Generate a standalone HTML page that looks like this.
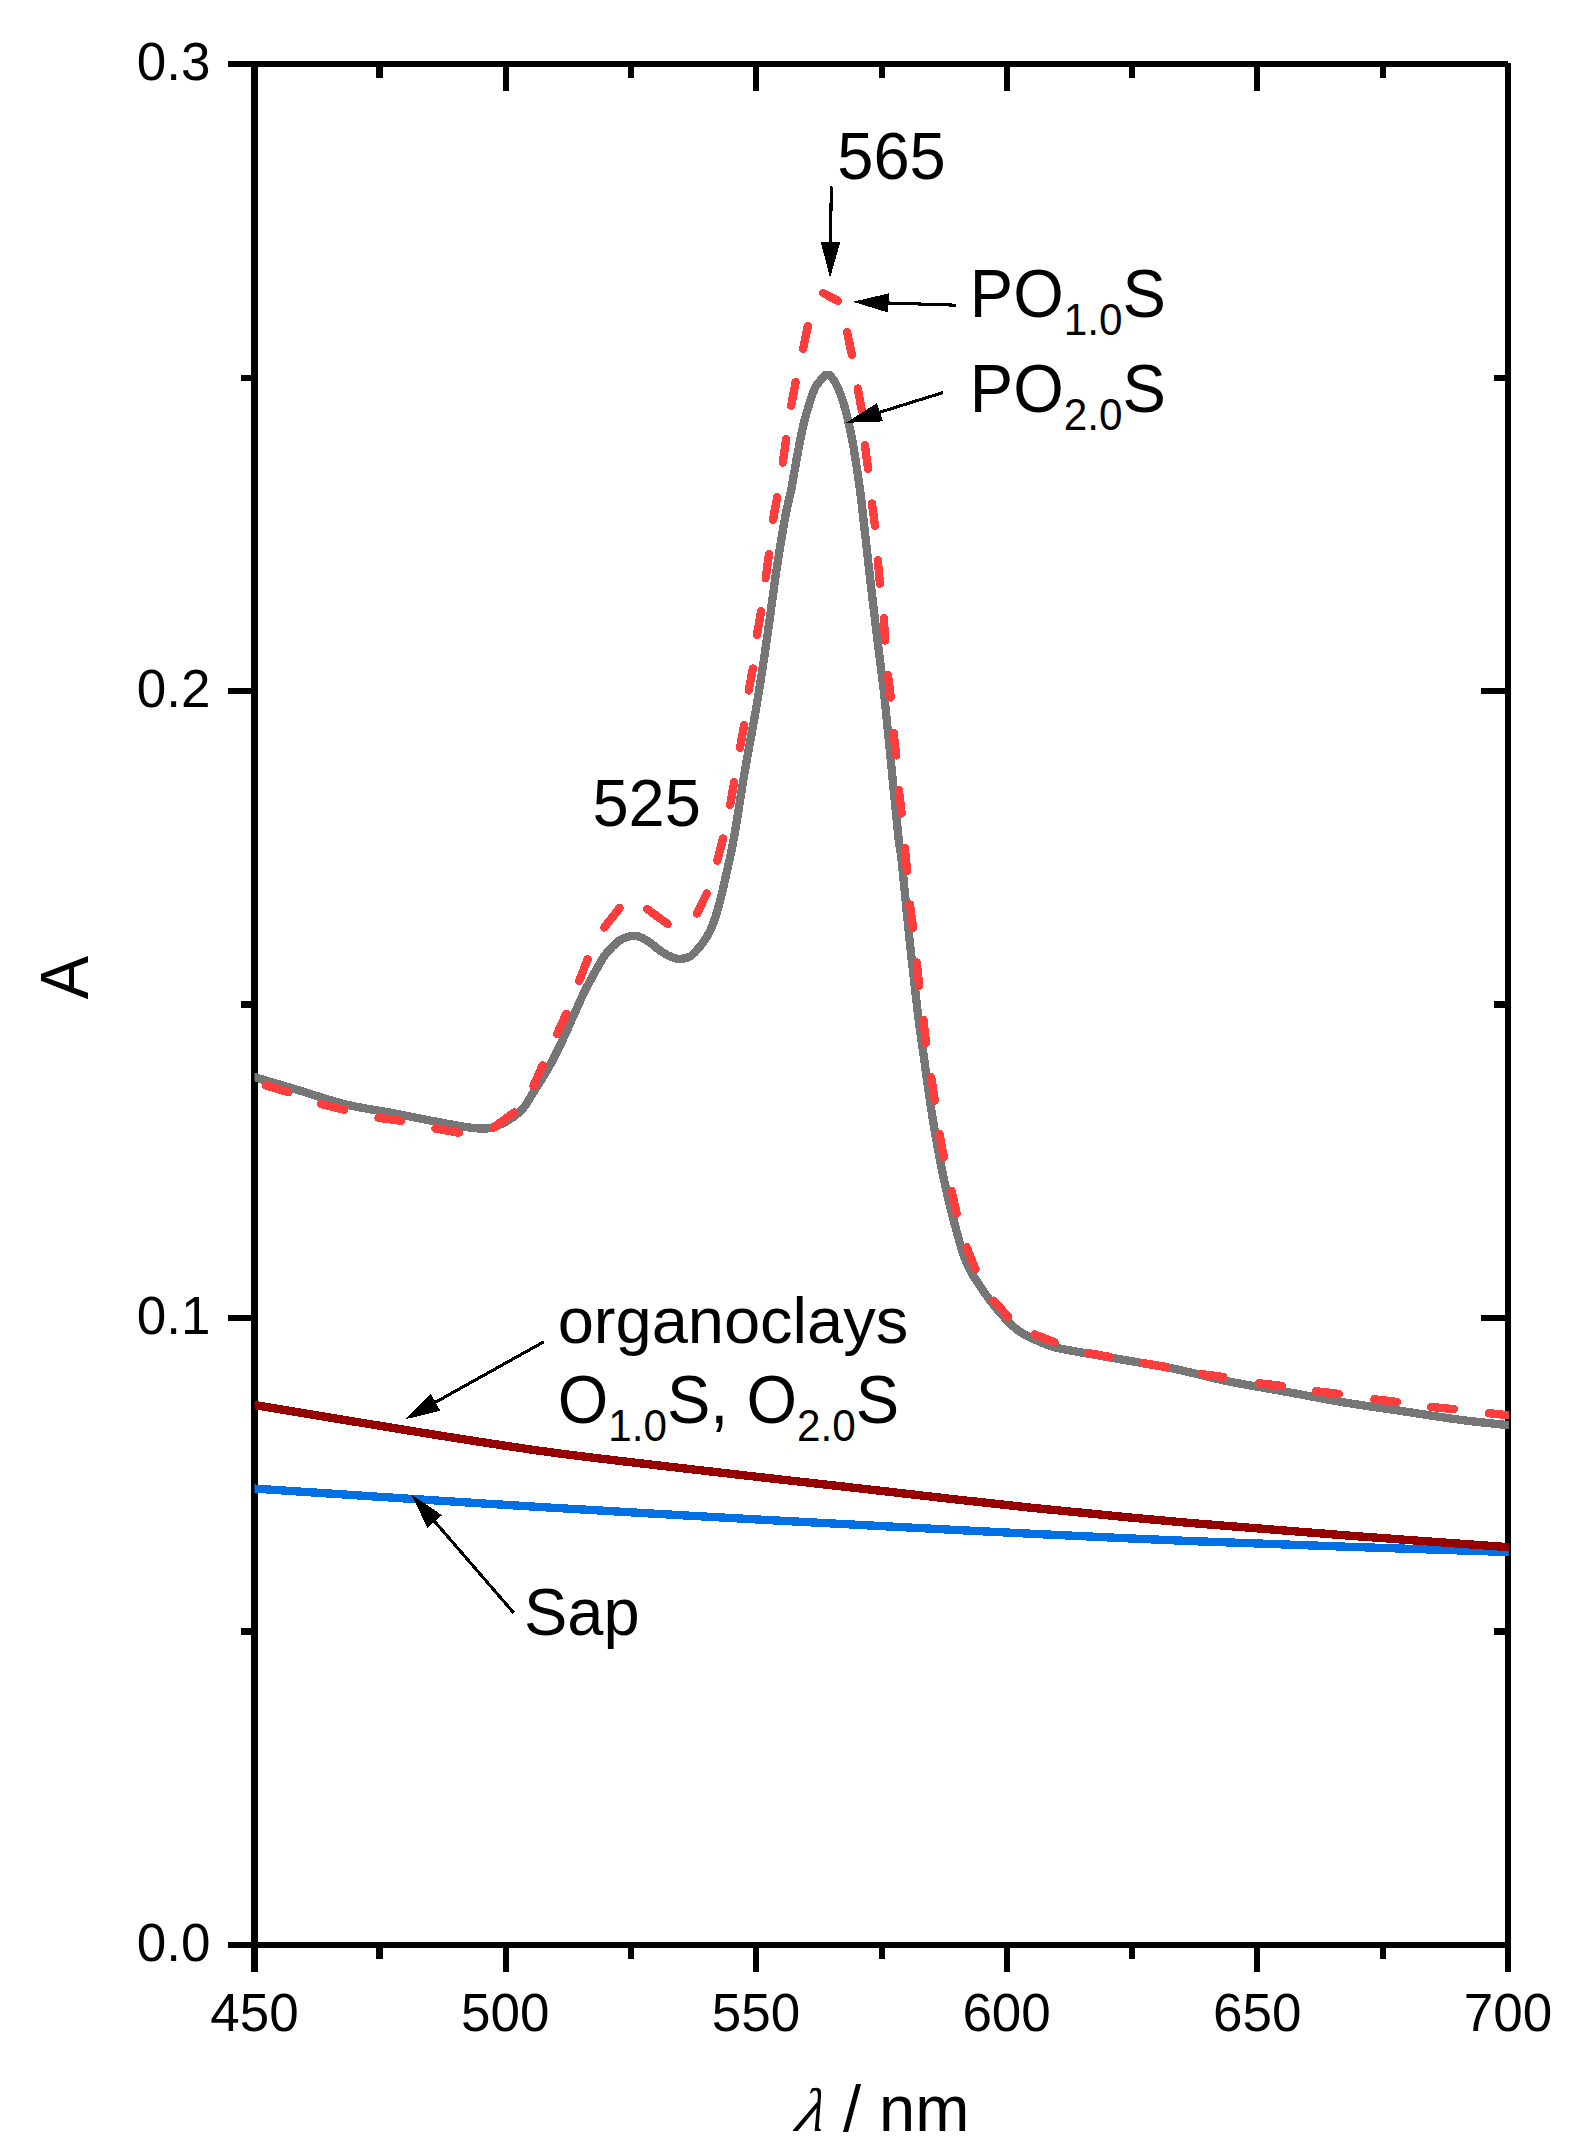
<!DOCTYPE html>
<html lang="en"><head><meta charset="utf-8"><title>Absorption spectra</title>
<style>html,body{margin:0;padding:0;background:#fff}svg{display:block}text{font-family:"Liberation Sans",Arial,Helvetica,sans-serif;fill:#000}.t{font-size:53px}.a{font-size:65px}.s{font-size:42.25px}.lam{font-family:"Liberation Serif","DejaVu Serif",serif}</style></head><body>
<svg width="1570" height="2155" viewBox="0 0 1570 2155">
<rect width="1570" height="2155" fill="#fff"/>
<defs><clipPath id="plot"><rect x="254.5" y="64" width="1254.4" height="1881"/></clipPath></defs>
<g stroke="#000" stroke-width="6.25" fill="none" shape-rendering="crispEdges">
<path d="M254.5 60.9 V1972"/>
<path d="M1508 63 V1972"/>
<path d="M228.1 64 H1508"/>
<path d="M228.1 1945 H1508"/>
<path d="M506 1945v27.1M506 64v27.1M631 1945v14.1M631 64v14.1M756 1945v27.1M756 64v27.1M882 1945v14.1M882 64v14.1M1007 1945v27.1M1007 64v27.1M1132 1945v14.1M1132 64v14.1M1257 1945v27.1M1257 64v27.1M1383 1945v14.1M1383 64v14.1" stroke-width="6"/>
<path d="M379.5 1945v14.1M379.5 64v14.1" stroke-width="7"/>
<path d="M254.5 1318h-26.4M1508 1318h-27.1M254.5 691h-26.4M1508 691h-27.1M254.5 1631.5h-13.4M1508 1631.5h-14.1M254.5 1004.5h-13.4M1508 1004.5h-14.1M254.5 377.9h-13.4M1508 377.9h-14.1"/>
</g>
<g clip-path="url(#plot)" fill="none" stroke-linejoin="round" shape-rendering="crispEdges">
<path d="M214.5 1486C221.2 1486.4 221.4 1486.4 254.5 1488.6C287.6 1490.8 363.8 1495.8 413 1499C462.2 1502.2 500.6 1504.6 550 1507.6C599.4 1510.6 656.1 1513.8 709.2 1516.8C762.3 1519.8 815 1522.6 868.5 1525.4C922 1528.2 976.5 1531.1 1030 1533.7C1083.5 1536.3 1136.1 1538.8 1189.2 1541C1242.3 1543.2 1295.4 1545 1348.5 1546.8C1401.6 1548.6 1474.8 1550.9 1508 1552C1541.2 1553.1 1541.3 1553.1 1548 1553.3" stroke="#0070e4" stroke-width="8.33"/>
<path d="M214.5 1398.4C221.2 1399.5 221.4 1399.5 254.5 1405C287.6 1410.5 363.8 1423.3 413 1431.2C462.2 1439.1 500.6 1445.5 550 1452.2C599.4 1458.9 656.1 1465.1 709.2 1471.3C762.3 1477.5 815 1483.4 868.5 1489.4C922 1495.5 976.5 1502 1030 1507.6C1083.5 1513.2 1136.1 1518.2 1189.2 1522.9C1242.3 1527.6 1295.4 1531.6 1348.5 1535.6C1401.6 1539.6 1474.8 1544.7 1508 1547.1C1541.2 1549.5 1541.3 1549.5 1548 1550" stroke="#960000" stroke-width="8.33"/>
<path d="M214.5 1065.1C221.1 1067.1 240.3 1072.8 254.2 1077C268.1 1081.2 282.6 1085.4 297.8 1090C313 1094.6 329.6 1100.5 345.5 1104.4C361.4 1108.3 377.4 1110.2 393.3 1113.2C409.2 1116.2 427.1 1120.1 441.1 1122.6C455.2 1125.1 468.1 1127.9 477.6 1128.4C487.1 1128.9 490.9 1128.4 498 1125.5C505.1 1122.6 514.7 1116.6 520.5 1111.2C526.3 1105.8 528.3 1100.2 533 1092.9C537.7 1085.6 544 1075.9 548.8 1067.4C553.6 1058.9 557.6 1050.7 561.8 1041.9C566 1033.1 570.2 1023.1 574 1014.7C577.8 1006.3 580.7 999.4 584.5 991.7C588.3 984.1 593.2 975.2 596.8 968.8C600.4 962.4 602.6 958.1 606.3 953.5C610 948.9 615.3 943.7 618.9 940.9C622.5 938.1 625.4 937.5 628.1 936.7C630.8 935.9 632.7 935.7 635 935.9C637.3 936.1 639.4 936.6 641.9 937.8C644.4 938.9 647 940.5 650.3 942.8C653.6 945.1 657.9 949.3 661.7 951.8C665.5 954.3 670 956.5 673.2 957.7C676.4 958.9 678.1 959.1 680.9 958.9C683.7 958.7 687.5 957.9 690 956.6C692.5 955.3 693.9 953.2 696 951C698.1 948.8 700.3 946.3 702.6 943.1C704.9 939.9 707.5 936.1 709.6 931.9C711.7 927.7 713.4 923.3 715.2 917.8C717 912.3 718.9 905.3 720.5 899C722.1 892.7 722.8 890 725 880C727.2 870 730.5 856.6 733.8 838.7C737.1 820.8 740.8 794.6 744.6 772.5C748.4 750.4 752.8 728.3 756.5 706.2C760.2 684.1 763.5 662.4 766.8 640C770.1 617.6 773.1 592.8 776.2 572.1C779.3 551.5 782.9 529.8 785.4 516.1C787.9 502.4 789.7 497.6 791.2 490C792.7 482.4 793.4 477 794.6 470.4C795.8 463.8 797 456.8 798.2 450.5C799.4 444.2 800.6 437.9 801.7 432.8C802.8 427.7 803.3 425.1 804.6 420.1C805.9 415.1 807.9 408.2 809.6 402.9C811.3 397.6 813.2 391.7 814.8 388.2C816.4 384.7 817.8 383.6 819.2 381.8C820.6 380 822.6 378.3 823.3 377.6L825.3 375.3L830.1 375.3L831.8 377.6C832.3 378.3 833.8 380 834.8 381.8C835.8 383.6 836.6 384.7 838.1 388.2C839.6 391.7 841.9 397.6 843.5 402.9C845.1 408.2 846.8 415.1 848 420.1C849.2 425.1 849.8 427.7 850.8 432.8C851.8 437.9 852.6 441 854.1 450.5C855.6 460 858.5 479.1 860 490C861.5 500.9 861.5 502.4 863.1 516.1C864.7 529.8 867.2 553.4 869.4 572.1C871.5 590.8 873.8 610.2 876 628.2C878.2 646.2 880.9 667 882.5 680C884.1 693 883.8 690.8 885.4 706.2C887 721.6 889.8 750.4 892 772.5C894.2 794.6 897 824.1 898.6 838.7C900.2 853.3 899.8 843.7 901.6 860C903.4 876.3 906.5 910.9 909.2 936.4C911.9 961.9 915.3 992.3 917.8 1012.9C920.3 1033.5 922 1043.9 924.3 1060C926.5 1076.1 928.7 1093.1 931.3 1109.7C933.9 1126.3 936.6 1142.8 939.9 1159.4C943.1 1176 946.6 1192.5 950.8 1209.1C955 1225.6 960.2 1246.1 964.9 1258.7C969.6 1271.3 973.5 1276.2 979.1 1284.8C984.7 1293.4 991.8 1303.1 998.2 1310.6C1004.6 1318.1 1010.9 1324.8 1017.3 1329.8C1023.7 1334.8 1030 1337.3 1036.4 1340.3C1042.8 1343.2 1045.9 1345.1 1055.5 1347.5C1065.1 1349.9 1081 1352.3 1093.8 1354.6C1106.5 1356.9 1119.3 1359.1 1132 1361.3C1144.7 1363.5 1160.7 1366.2 1170.2 1368C1179.8 1369.8 1179.3 1369.9 1189.3 1372.2C1199.3 1374.5 1213.7 1378.4 1230 1381.7C1246.3 1385 1268.2 1388.5 1287.3 1392C1306.4 1395.5 1325.6 1399.3 1344.7 1402.5C1363.8 1405.7 1382.9 1408.2 1402 1411.1C1421.1 1414 1441.6 1417.3 1459.3 1419.7C1477 1422.1 1493.2 1423.5 1508 1425.2C1522.8 1426.9 1541.3 1429 1548 1429.7" stroke="#767676" stroke-width="8.33" stroke-linejoin="miter"/>
<path d="M265.7 1085.3L288.2 1092.2M321.1 1104L344.2 1109.7M378.4 1117.8L401 1120.8M435.4 1128.5L458.9 1132.7M492.9 1128L514.3 1112.3M533.5 1085.9L542.6 1065.3M557.1 1034.1L566.3 1013.8M579.2 980.9L587.6 959.2M604.2 927.6L619.6 908M647.2 909.1L667.5 923.9M697 913.6L706.8 893.3M717.3 860.8L723.1 838.4M730.2 804.8L734.2 782.1M740 747.7L744.1 725.3M748.7 690.5L752.9 668.5M757 634.7L761.1 611.1M765.7 578L769 554.2M773 520L777.2 497.1M782.8 462.7L786.1 439.3M791.2 405.7L795.6 382.1M803.1 348.8L807.8 326.1M823.2 293.1L837.9 300.8M847 331.9L851.9 354.8M857.8 388.4L861.7 410.1M865 445.2L868 468.7M872 503.4L875 525.9M877.8 560.2L879.9 583.7M883.9 618.1L885 640.5M888 675.3L890.7 697.5M893.6 732.7L896.1 755.4M898.9 790.2L901.6 813.4M904.9 848.2L907.1 870.7M910 904.6L913 927.7M916.8 962.4L919.2 985.8M923.4 1020L926 1042.7M931.2 1077.1L934.8 1100.6M939.4 1134L943.9 1156.9M951.7 1191.2L956.6 1213.5M966.6 1247.1L975.5 1269.4M993.5 1300.5L1008.2 1316.8M1034.5 1334.5L1054.6 1342.2M1088.6 1353.1L1110 1356.9M1143.6 1363.2L1166.4 1367M1201.9 1374.1L1223.3 1377M1259.2 1383.2L1281.8 1385.9M1315.8 1391.2L1338.9 1393.9M1374.3 1399.2L1396.8 1401.9M1431 1406.9L1453.8 1409.2M1488.9 1413.2L1512 1415.6" stroke="#ff3d3d" stroke-width="8.33" stroke-linecap="round"/>
</g>
<text class="t" text-anchor="middle" transform="translate(254.5 2031) scale(1 1.02)">450</text>
<text class="t" text-anchor="middle" transform="translate(505.2 2031) scale(1 1.02)">500</text>
<text class="t" text-anchor="middle" transform="translate(755.9 2031) scale(1 1.02)">550</text>
<text class="t" text-anchor="middle" transform="translate(1006.6 2031) scale(1 1.02)">600</text>
<text class="t" text-anchor="middle" transform="translate(1257.3 2031) scale(1 1.02)">650</text>
<text class="t" text-anchor="middle" transform="translate(1508 2031) scale(1 1.02)">700</text>
<text class="t" text-anchor="end" transform="translate(210.5 1960.7) scale(1 1.02)">0.0</text>
<text class="t" text-anchor="end" transform="translate(210.5 1333.7) scale(1 1.02)">0.1</text>
<text class="t" text-anchor="end" transform="translate(210.5 706.7) scale(1 1.02)">0.2</text>
<text class="t" text-anchor="end" transform="translate(210.5 79.7) scale(1 1.02)">0.3</text>
<text class="a" text-anchor="middle" transform="translate(88.3 977.7) rotate(-90) scale(1 1.04)">A</text>
<text class="lam" font-size="61.5" transform="translate(791 2131) skewX(-22)">λ</text>
<text class="a" x="843" y="2131">/ nm</text>
<text class="a" transform="translate(837.3 179.3) scale(1 1.02)">565</text>
<text class="a" transform="translate(592.4 826) scale(1 1.02)">525</text>
<text class="a" transform="translate(969.8 317) scale(1 1.04)">PO<tspan class="s" dy="17.5">1.0</tspan><tspan dy="-17.5">S</tspan></text>
<text class="a" transform="translate(969.8 411.9) scale(1 1.04)">PO<tspan class="s" dy="17.5">2.0</tspan><tspan dy="-17.5">S</tspan></text>
<text class="a" x="557.7" y="1342.5">organoclays</text>
<text class="a" transform="translate(557.7 1422.7) scale(1 1.04)">O<tspan class="s" dy="17.5">1.0</tspan><tspan dy="-17.5">S, O</tspan><tspan class="s" dy="17.5">2.0</tspan><tspan dy="-17.5">S</tspan></text>
<text class="a" transform="translate(523.9 1635) scale(1 1.02)">Sap</text>
<g shape-rendering="crispEdges">
<line x1="831.3" y1="186.5" x2="830.5" y2="242.4" stroke="#000" stroke-width="3.1"/><polygon points="830,277.9 820.9,242.3 840.2,242.5" fill="#000"/>
<line x1="956" y1="305.2" x2="888.5" y2="303" stroke="#000" stroke-width="3.1"/><polygon points="853,301.8 888.8,293.3 888.2,312.6" fill="#000"/>
<line x1="943.2" y1="392.5" x2="879.9" y2="412.2" stroke="#000" stroke-width="3.1"/><polygon points="846,422.8 877,403 882.8,421.4" fill="#000"/>
<line x1="544" y1="1341.7" x2="435.5" y2="1402.2" stroke="#000" stroke-width="3.1"/><polygon points="404.5,1419.5 430.8,1393.8 440.2,1410.6" fill="#000"/>
<line x1="513.8" y1="1613" x2="434.7" y2="1521.5" stroke="#000" stroke-width="3.1"/><polygon points="411.5,1494.6 442,1515.2 427.4,1527.8" fill="#000"/>
</g>
</svg></body></html>
